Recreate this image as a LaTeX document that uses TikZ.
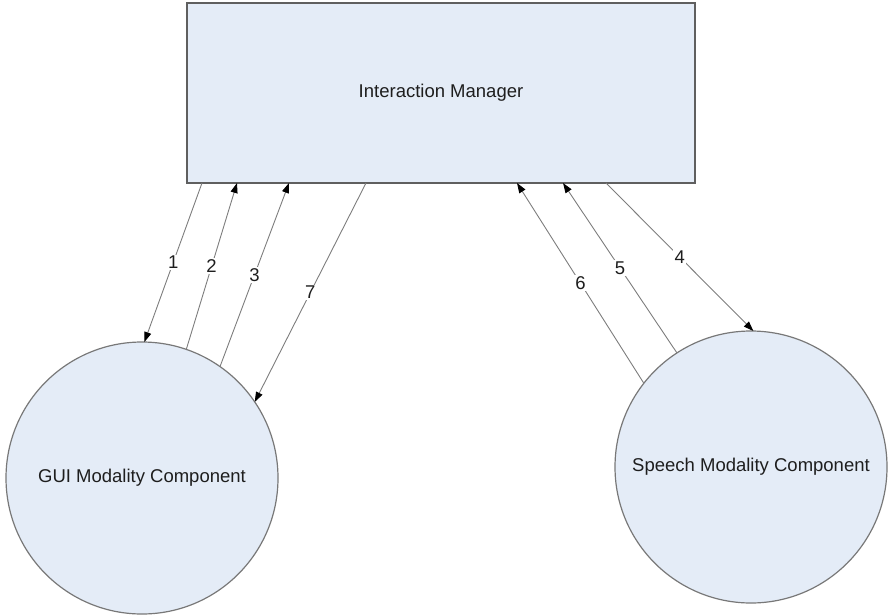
\documentclass[tikz,border=0pt]{standalone}
\usepackage{fontspec}
\setmainfont{Liberation Sans}
\usetikzlibrary{arrows.meta}
\definecolor{boxfill}{RGB}{228,236,247}
\definecolor{boxdraw}{RGB}{95,95,95}
\definecolor{circdraw}{RGB}{120,120,120}
\definecolor{linegray}{RGB}{125,125,125}
\definecolor{txt}{RGB}{30,30,30}
\tikzset{
  imbox/.style={draw=boxdraw, line width=1.2pt, fill=boxfill, rectangle, minimum width=508pt, minimum height=180pt, inner sep=0pt, outer sep=0pt, text=txt, font=\fontsize{18.5}{22}\selectfont},
  modcirc/.style={draw=circdraw, line width=1.2pt, fill=boxfill, circle, minimum size=272pt, inner sep=0pt, outer sep=0pt, text=txt, font=\fontsize{18.5}{22}\selectfont},
  msg/.style={draw=linegray, line width=0.9pt, -{Triangle[length=10pt,width=7pt,color=black]}},
  lbl/.style={fill=white, inner sep=1.5pt, text=txt, font=\fontsize{18.5}{22}\selectfont, pos=0.5}
}
\begin{document}
\begin{tikzpicture}[x=1pt,y=-1pt]
\useasboundingbox (0,0) rectangle (890,615);
\node[imbox] (im) at (441,93) {Interaction Manager};
\node[modcirc] (gui) at (142,478) {GUI Modality Component};
\node[modcirc] (sp) at (751,467) {Speech Modality Component};
% GUI side
\draw[msg] ([xshift=15pt]im.south west) -- node[lbl] {1} (gui.89);
\draw[msg] (gui.71) -- node[lbl] {2} ([xshift=50pt]im.south west);
\draw[msg] (gui.55) -- node[lbl] {3} ([xshift=102pt]im.south west);
\draw[msg] ([xshift=179pt]im.south west) -- node[lbl] {7} (gui.34);
% Speech side
\draw[msg] ([xshift=419pt]im.south west) -- node[lbl] {4} (sp.89);
\draw[msg] (sp.123) -- node[lbl] {5} ([xshift=376pt]im.south west);
\draw[msg] (sp.142) -- node[lbl] {6} ([xshift=330pt]im.south west);
\end{tikzpicture}
\end{document}
